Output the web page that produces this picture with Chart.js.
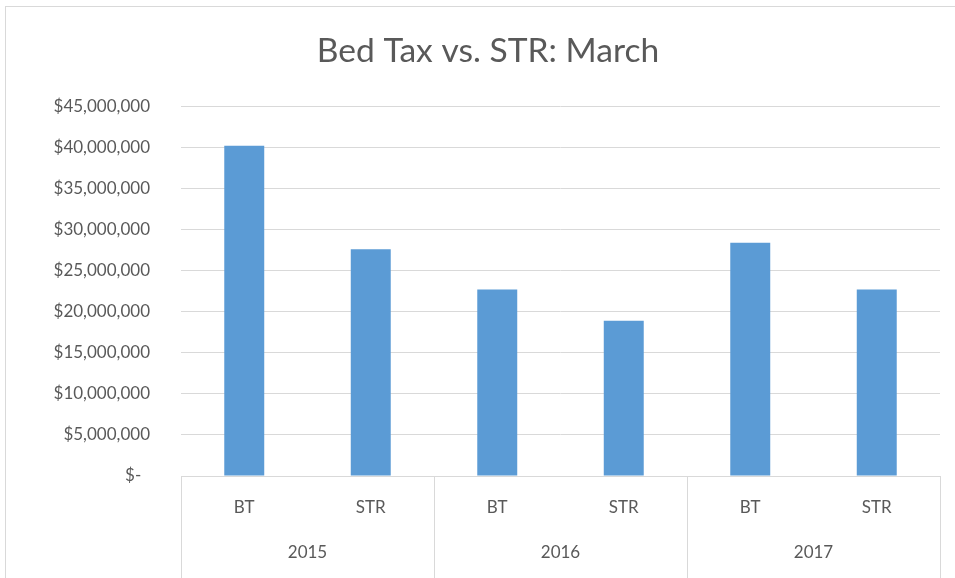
<!DOCTYPE html>
<html>
<head>
<meta charset="utf-8">
<script src="https://cdn.jsdelivr.net/npm/chart.js@4"></script>
<style>
  html, body { margin: 0; padding: 0; background: #fff; overflow: hidden; width: 955px; height: 578px; }
  #wrap { position: absolute; left: 5px; top: 6px; width: 964px; height: 600px; border: 1px solid #d9d9d9; }
  canvas { display: block; }
</style>
</head>
<body>
<div id="wrap"><canvas id="c" width="964" height="600"></canvas></div>
<script>
const title = 'Bed Tax vs. STR: March';
const categories = ['BT', 'STR', 'BT', 'STR', 'BT', 'STR'];
const years = ['2015', '2016', '2017'];
const values = [40200000, 27600000, 22700000, 18900000, 28400000, 22700000];
const yTicks = [0, 5000000, 10000000, 15000000, 20000000, 25000000, 30000000, 35000000, 40000000, 45000000];

const FONT = 'Lato';
const TXT = '#595959';
const GRID = '#d9d9d9';

function fmt(v) {
  if (v === 0) return '$-  ';
  return '$' + v.toLocaleString('en-US');
}

const groupLines = {
  id: 'groupLines',
  afterDraw(chart) {
    const x2 = chart.scales.x2;
    const x = chart.scales.x;
    const ctx = chart.ctx;
    ctx.save();
    ctx.strokeStyle = GRID;
    ctx.lineWidth = 1;
    for (let i = 0; i <= years.length; i++) {
      const px = Math.round(x2.left + i * x2.width / years.length) + 0.5;
      ctx.beginPath();
      ctx.moveTo(px, x.top);
      ctx.lineTo(px, chart.height);
      ctx.stroke();
    }
    ctx.restore();
  }
};

new Chart(document.getElementById('c'), {
  type: 'bar',
  data: {
    labels: categories,
    datasets: [{
      data: values,
      backgroundColor: '#5b9bd5',
      borderWidth: 0,
      barPercentage: 0.316,
      categoryPercentage: 1
    }]
  },
  options: {
    responsive: false,
    animation: false,
    layout: { padding: 0 },
    plugins: {
      legend: { display: false },
      tooltip: { enabled: false },
      title: {
        display: true,
        text: title,
        color: TXT,
        font: { family: FONT, size: 33.6, weight: 'normal' },
        padding: { top: 24, bottom: 35 }
      }
    },
    scales: {
      x: {
        type: 'category',
        offset: true,
        grid: { display: false, drawOnChartArea: false },
        border: { display: true, color: GRID, width: 1 },
        ticks: { color: TXT, font: { family: FONT, size: 17 }, padding: 13, maxRotation: 0, autoSkip: false },
        afterFit(s) { s.height = 57; }
      },
      x2: {
        type: 'category',
        position: 'bottom',
        labels: years,
        offset: true,
        grid: { display: false },
        border: { display: false },
        ticks: { color: TXT, font: { family: FONT, size: 17 }, padding: 1, maxRotation: 0, autoSkip: false },
        afterFit(s) { s.height = 74; }
      },
      y: {
        min: 0,
        max: 45000000,
        afterBuildTicks(s) { s.ticks = yTicks.map(v => ({ value: v })); },
        grid: { color: GRID, lineWidth: 1, drawTicks: false },
        border: { display: false },
        ticks: { color: TXT, font: { family: FONT, size: 17 }, padding: 31, callback: v => fmt(v) },
        afterFit(s) { s.width = 175; }
      },
      yR: {
        position: 'right',
        display: true,
        grid: { display: false },
        border: { display: false },
        ticks: { display: false },
        afterFit(s) { s.width = 30; }
      }
    }
  },
  plugins: [groupLines]
});
</script>
</body>
</html>
